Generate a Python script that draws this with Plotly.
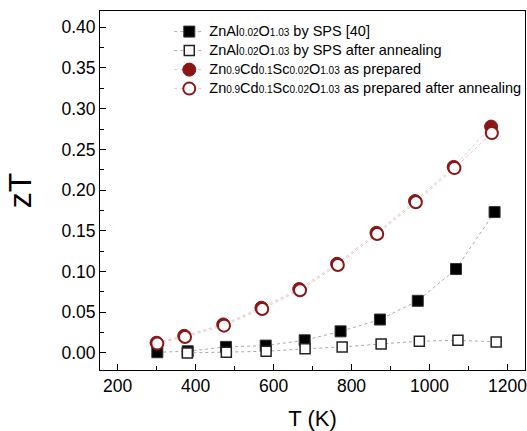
import plotly.graph_objects as go

# Data
T_spsA = [302, 380, 478, 580, 680, 772, 873, 970, 1068, 1167]
zT_spsA = [0.0008, 0.002, 0.0074, 0.009, 0.0155, 0.0265, 0.041, 0.064, 0.103, 0.173]

T_spsB = [379, 479, 581, 681, 776, 876, 974, 1073, 1171]
zT_spsB = [0.0, 0.0008, 0.002, 0.005, 0.0074, 0.011, 0.0143, 0.0155, 0.0135]

T_cdA = [300, 371, 471, 569, 666, 763, 864, 963, 1062, 1158]
zT_cdA = [0.0125, 0.021, 0.035, 0.0555, 0.0785, 0.1095, 0.1475, 0.1865, 0.2285, 0.278]

T_cdB = [302, 373, 473, 571, 668, 765, 866, 965, 1064, 1160]
zT_cdB = [0.0114, 0.0196, 0.0335, 0.054, 0.077, 0.108, 0.146, 0.185, 0.227, 0.270]

x_ticks = [200, 400, 600, 800, 1000, 1200]
y_ticks = [0, 0.05, 0.1, 0.15, 0.2, 0.25, 0.3, 0.35, 0.4]

sub = lambda s: '<span style="font-size:10px">' + s + '</span>'
big = lambda s: '<span style="font-size:14.5px">' + s + '</span>'
names = [
    big('ZnAl') + sub('0.02') + big('O') + sub('1.03') + big(' by SPS [40]'),
    big('ZnAl') + sub('0.02') + big('O') + sub('1.03') + big(' by SPS after annealing'),
    big('Zn') + sub('0.9') + big('Cd') + sub('0.1') + big('Sc') + sub('0.02') + big('O') + sub('1.03') + big(' as prepared'),
    big('Zn') + sub('0.9') + big('Cd') + sub('0.1') + big('Sc') + sub('0.02') + big('O') + sub('1.03') + big(' as prepared after annealing'),
]

red = '#8a1616'
fig = go.Figure()
fig.add_trace(go.Scatter(x=T_spsA, y=zT_spsA, name=names[0], mode='lines+markers',
                         line=dict(color='#aaaaaa', width=1, dash='dot'),
                         marker=dict(symbol='square', size=11, color='black', line=dict(color='#333', width=1))))
fig.add_trace(go.Scatter(x=T_spsB, y=zT_spsB, name=names[1], mode='lines+markers',
                         line=dict(color='#aaaaaa', width=1, dash='dot'),
                         marker=dict(symbol='square', size=10, color='white', line=dict(color='#222', width=1.5))))
fig.add_trace(go.Scatter(x=T_cdA, y=zT_cdA, name=names[2], mode='lines+markers',
                         line=dict(color='#e6c4c4', width=1, dash='dot'),
                         marker=dict(symbol='circle', size=13, color=red, line=dict(color=red, width=1))))
fig.add_trace(go.Scatter(x=T_cdB, y=zT_cdB, name=names[3], mode='lines+markers',
                         line=dict(color='#e6c4c4', width=1, dash='dot'),
                         marker=dict(symbol='circle', size=12, color='white', line=dict(color=red, width=2))))

axis_common = dict(showgrid=False, zeroline=False, showline=True, linecolor='black', linewidth=1,
                   mirror=True, ticks='inside', ticklen=6, tickcolor='black',
                   ticklabeloverflow='allow',
                   tickfont=dict(family='Liberation Sans, Arial', size=17.5, color='black'))

fig.update_xaxes(range=[155, 1245], tickvals=x_ticks,
                 minor=dict(ticks='inside', ticklen=4, dtick=100, tick0=0, tickcolor='black'),
                 title=dict(text='T (K)', font=dict(family='Liberation Sans, Arial', size=22, color='black'), standoff=17),
                 **axis_common)
fig.update_yaxes(range=[-0.021, 0.42], tickvals=y_ticks,
                 tickformat='.2f',
                 minor=dict(ticks='inside', ticklen=4, dtick=0.025, tick0=0, tickcolor='black'),
                 title=dict(text='zT', font=dict(family='Liberation Sans, Arial', size=32, color='black'), standoff=20),
                 **axis_common)

fig.update_layout(
    width=527, height=431,
    margin=dict(l=100, r=2, t=11, b=61, autoexpand=False),
    paper_bgcolor='white', plot_bgcolor='white',
    font=dict(family='Liberation Sans, Arial', color='black'),
    legend=dict(x=0.163, y=0.983, xanchor='left', yanchor='top', bgcolor='rgba(0,0,0,0)',
                font=dict(size=12, family='Liberation Sans, Arial', color='black'),
                itemwidth=30, tracegroupgap=0),
    showlegend=True,
)

fig.write_html('out.html', config={'displayModeBar': False},
               post_script="document.body.style.margin='0';")
